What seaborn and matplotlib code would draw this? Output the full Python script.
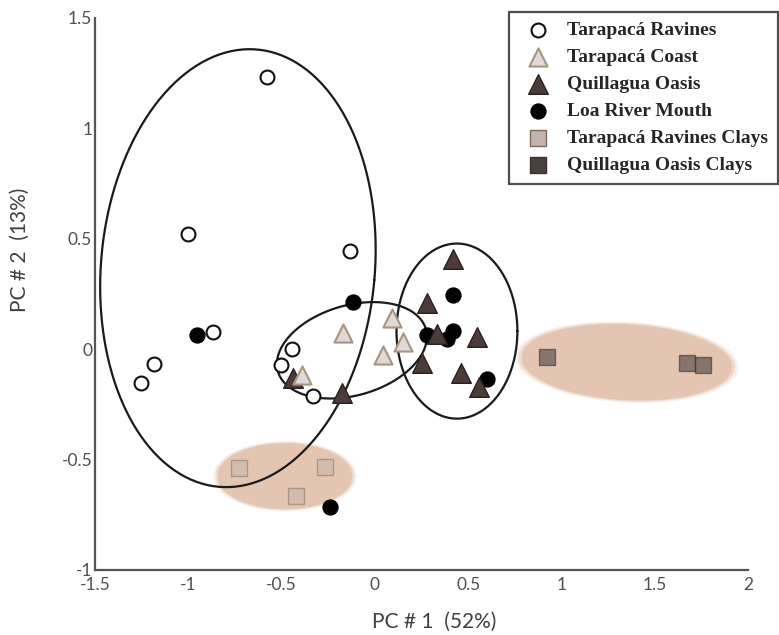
import numpy as np
import matplotlib
matplotlib.use("Agg")
import matplotlib.pyplot as plt
import seaborn as sns

# PCA scores
ravines_x = [-0.579, -1.002, -0.134, -0.868, -1.184, -1.254, -0.445, -0.504, -0.332]
ravines_y = [1.232, 0.521, 0.444, 0.077, -0.068, -0.154, 0.0, -0.072, -0.213]

coast_x = [-0.171, 0.091, 0.150, 0.043, -0.391]
coast_y = [0.072, 0.140, 0.032, -0.027, -0.118]

oasis_x = [0.418, 0.279, 0.332, 0.547, 0.252, 0.461, 0.557, -0.177, -0.439]
oasis_y = [0.408, 0.208, 0.068, 0.054, -0.063, -0.109, -0.172, -0.199, -0.131]

loa_x = [-0.954, -0.118, 0.418, 0.279, 0.418, 0.386, 0.600, -0.241]
loa_y = [0.063, 0.213, 0.245, 0.063, 0.082, 0.045, -0.136, -0.716]

ravines_clay_x = [-0.729, -0.268, -0.423]
ravines_clay_y = [-0.539, -0.534, -0.666]

oasis_clay_x = [0.922, 1.672, 1.758]
oasis_clay_y = [-0.036, -0.063, -0.072]

x_ticks = [-1.5, -1, -0.5, 0, 0.5, 1, 1.5, 2]
y_ticks = [-1, -0.5, 0, 0.5, 1, 1.5]

# group outlines: centre, width, height (data units), screen angle
outline_ellipses = [(-0.734, 0.367, 1.468, 1.988, -5),
                    (-0.123, -0.005, 0.825, 0.408, 16),
                    (0.44, 0.082, 0.648, 0.793, 0)]
clay_ellipses = [(1.35, -0.059, 1.131, 0.344, -3),
                 (-0.482, -0.575, 0.723, 0.299, 0)]


def ellipse_points(ax, cx, cy, w, h, angle):
    """Ellipse drawn in screen space, returned in data coords."""
    t = np.linspace(0, 2 * np.pi, 300)
    c = ax.transData.transform((cx, cy))
    p0 = ax.transData.transform((0, 0))
    sx = ax.transData.transform((1, 0))[0] - p0[0]
    sy = ax.transData.transform((0, 1))[1] - p0[1]
    u = w / 2 * sx * np.cos(t)
    v = h / 2 * sy * np.sin(t)
    a = np.deg2rad(angle)
    X = c[0] + u * np.cos(a) - v * np.sin(a)
    Y = c[1] + u * np.sin(a) + v * np.cos(a)
    return ax.transData.inverted().transform(np.column_stack([X, Y]))


sns.set_style("white")
fig = plt.figure(figsize=(7.79, 6.35), dpi=100)
ax = fig.add_axes([95 / 779, 1 - 570 / 635, 653 / 779, 552 / 635])
ax.set_xlim(-1.5, 2)
ax.set_ylim(-1, 1.5)

# shaded clay areas with a soft edge
for cx, cy, w, h, ang in clay_ellipses:
    for k, al in [(1.06, 0.25), (1.03, 0.45), (1.0, 1.0)]:
        pts = ellipse_points(ax, cx, cy, w * k, h * k, ang)
        ax.fill(pts[:, 0], pts[:, 1], color="#e4c5b1", alpha=al, lw=0, zorder=0)

for cx, cy, w, h, ang in outline_ellipses:
    pts = ellipse_points(ax, cx, cy, w, h, ang)
    ax.plot(pts[:, 0], pts[:, 1], color="#1a1a1a", lw=1.6, zorder=1)

sns.scatterplot(x=loa_x, y=loa_y, ax=ax, marker="o", s=115, color="black",
                edgecolor="black", linewidth=1, label="Loa River Mouth", zorder=3)
sns.scatterplot(x=oasis_x, y=oasis_y, ax=ax, marker="^", s=200, color="#4b3b3b",
                edgecolor="#2b2020", linewidth=1, label="Quillagua Oasis", zorder=4)
sns.scatterplot(x=coast_x, y=coast_y, ax=ax, marker="^", s=170, color="#e2d8d8",
                edgecolor="#a8957f", linewidth=1.5, label="Tarapacá Coast", zorder=5)
sns.scatterplot(x=ravines_x, y=ravines_y, ax=ax, marker="o", s=100, color="white",
                edgecolor="#111111", linewidth=1.5, label="Tarapacá Ravines", zorder=6)
sns.scatterplot(x=ravines_clay_x, y=ravines_clay_y, ax=ax, marker="s", s=120,
                color="#c4b4ac", edgecolor="#806a60", linewidth=1, alpha=0.5,
                label="Tarapacá Ravines Clays", zorder=6)
sns.scatterplot(x=oasis_clay_x, y=oasis_clay_y, ax=ax, marker="s", s=120,
                color="#4a4040", edgecolor="#3a3030", linewidth=1, alpha=0.6,
                label="Quillagua Oasis Clays", zorder=6)

# axes styling
for side in ["top", "right"]:
    ax.spines[side].set_visible(False)
for side in ["left", "bottom"]:
    ax.spines[side].set_color("#555555")
    ax.spines[side].set_linewidth(1.6)
ax.set_xticks(x_ticks)
ax.set_yticks(y_ticks)
ax.set_xticklabels([f"{v:g}" for v in x_ticks])
ax.set_yticklabels([f"{v:g}" for v in y_ticks])
ax.tick_params(direction="in", length=5, width=1.3, color="#555555",
               labelcolor="#505050", labelsize=12.5)
ax.tick_params(axis="x", pad=5)
ax.tick_params(axis="y", pad=2)
for lab in ax.get_xticklabels() + ax.get_yticklabels():
    lab.set_family("Lato")

ax.set_xlabel("PC # 1  (52%)", family="Lato", fontsize=15, color="#404040")
ax.set_ylabel("PC # 2  (13%)", family="Lato", fontsize=15, color="#404040")
ax.xaxis.set_label_coords(0.52, -0.075)
ax.yaxis.set_label_coords(-0.1, 0.58)

# legend in the original order
order = ["Tarapacá Ravines", "Tarapacá Coast", "Quillagua Oasis",
         "Loa River Mouth", "Tarapacá Ravines Clays", "Quillagua Oasis Clays"]
handles, labels = ax.get_legend_handles_labels()
ax.get_legend().remove()
lookup = dict(zip(labels, handles))
leg = fig.legend([lookup[k] for k in order], order, loc="upper right",
                 bbox_to_anchor=(778 / 779, 1 - 12 / 635),
                 prop={"family": "Liberation Serif", "weight": "bold", "size": 14},
                 frameon=True, fancybox=False, edgecolor="#222222",
                 borderpad=0.5, labelspacing=0.48, handletextpad=0.5,
                 borderaxespad=0, handlelength=2.0)
leg.get_frame().set_linewidth(1.6)
for h in leg.legend_handles:
    h.set_alpha(1)

fig.savefig("out.png", dpi=100)
